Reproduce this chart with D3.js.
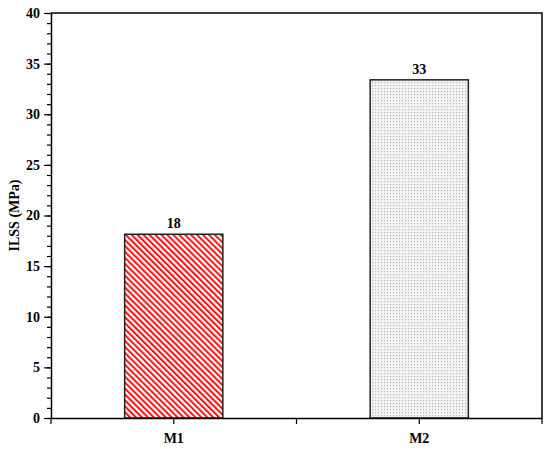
<!DOCTYPE html>
<html>
<head>
<meta charset="utf-8">
<title>ILSS bar chart</title>
<script src="https://d3js.org/d3.v7.min.js"></script>
<style>
  body { margin: 0; background: #fff; }
  text { font-family: "Liberation Serif", "Times New Roman", serif; font-weight: bold; }
</style>
</head>
<body>
<div id="chart"></div>
<script>
// data
const categories = ["M1", "M2"];
const values = [18.15, 33.4];
const valueLabels = ["18", "33"];
const yTicks = [0, 5, 10, 15, 20, 25, 30, 35, 40];

const width = 550, height = 449;
const margin = {top: 13, right: 8, bottom: 31, left: 51};
const innerW = width - margin.left - margin.right;
const innerH = height - margin.top - margin.bottom;

const svg = d3.select("#chart").append("svg")
    .attr("width", width)
    .attr("height", height);

// patterns
const defs = svg.append("defs");
const hatch = defs.append("pattern")
    .attr("id", "hatch")
    .attr("patternUnits", "userSpaceOnUse")
    .attr("width", 4.2).attr("height", 4.2)
    .attr("patternTransform", "rotate(-45)");
hatch.append("rect").attr("width", 4.2).attr("height", 4.2).attr("fill", "#fff");
hatch.append("rect").attr("x", 0).attr("width", 2).attr("height", 4.2).attr("fill", "#ff1010");

const dots = defs.append("pattern")
    .attr("id", "dots")
    .attr("patternUnits", "userSpaceOnUse")
    .attr("width", 3).attr("height", 3);
dots.append("rect").attr("width", 3).attr("height", 3).attr("fill", "#f4f4f4");
dots.append("rect").attr("width", 1.2).attr("height", 1.2).attr("fill", "#b8b8b8");

const fills = ["url(#hatch)", "url(#dots)"];

const g = svg.append("g").attr("transform", `translate(${margin.left},${margin.top})`);

// scales
const x = d3.scaleBand().domain(categories).range([0, innerW])
    .paddingInner(0.6).paddingOuter(0.3);
const y = d3.scaleLinear().domain([0, 40]).range([innerH, 0]);

// bars
g.selectAll(".bar")
    .data(categories)
    .enter().append("rect")
    .attr("class", "bar")
    .attr("x", d => x(d))
    .attr("y", (d, i) => y(values[i]))
    .attr("width", x.bandwidth())
    .attr("height", (d, i) => innerH - y(values[i]))
    .attr("fill", (d, i) => fills[i])
    .attr("stroke", "#222")
    .attr("stroke-width", 1.5);

// value labels
g.selectAll(".vlabel")
    .data(categories)
    .enter().append("text")
    .attr("x", d => x(d) + x.bandwidth() / 2)
    .attr("y", (d, i) => y(values[i]) - 6)
    .attr("text-anchor", "middle")
    .attr("font-size", 14)
    .text((d, i) => valueLabels[i]);

// frame (top and right)
g.append("path")
    .attr("d", `M0,0H${innerW}V${innerH}`)
    .attr("fill", "none")
    .attr("stroke", "#000")
    .attr("stroke-width", 1.5);

// y axis: minor ticks
const yMinor = d3.axisLeft(y).tickValues(d3.range(0, 41, 1)).tickSize(4).tickFormat("");
g.append("g").call(yMinor)
    .call(a => a.select(".domain").remove())
    .selectAll("line").attr("stroke", "#000").attr("stroke-width", 1.2);

const yAxis = d3.axisLeft(y).tickValues(yTicks).tickSize(7).tickPadding(4).tickSizeOuter(0);
const ya = g.append("g").call(yAxis);
ya.select(".domain").attr("stroke-width", 1.5);
ya.selectAll("line").attr("stroke-width", 1.2);
ya.selectAll("text")
    .attr("font-size", 14)
    .attr("font-family", "Liberation Serif, serif")
    .attr("font-weight", "bold")
    .attr("fill", "#000");

// x axis
const xAxis = d3.axisBottom(x).tickSize(6).tickPadding(9).tickSizeOuter(0);
const xa = g.append("g").attr("transform", `translate(0,${innerH})`).call(xAxis);
xa.select(".domain").attr("stroke-width", 1.5);
xa.selectAll("line").attr("stroke-width", 1.2);
xa.selectAll("text")
    .attr("font-size", 14)
    .attr("font-family", "Liberation Serif, serif")
    .attr("font-weight", "bold")
    .attr("fill", "#000");

// extra x ticks at the ends and between groups
const sep = [0, (x(categories[0]) + x.bandwidth() + x(categories[1])) / 2, innerW];
xa.selectAll(".sep").data(sep).enter().append("line")
    .attr("class", "sep")
    .attr("x1", d => d).attr("x2", d => d)
    .attr("y1", 0).attr("y2", 6)
    .attr("stroke", "#000").attr("stroke-width", 1.2);

// y axis title
svg.append("text")
    .attr("transform", `translate(19,${margin.top + innerH / 2}) rotate(-90)`)
    .attr("text-anchor", "middle")
    .attr("font-size", 14)
    .text("ILSS (MPa)");
</script>
</body>
</html>
